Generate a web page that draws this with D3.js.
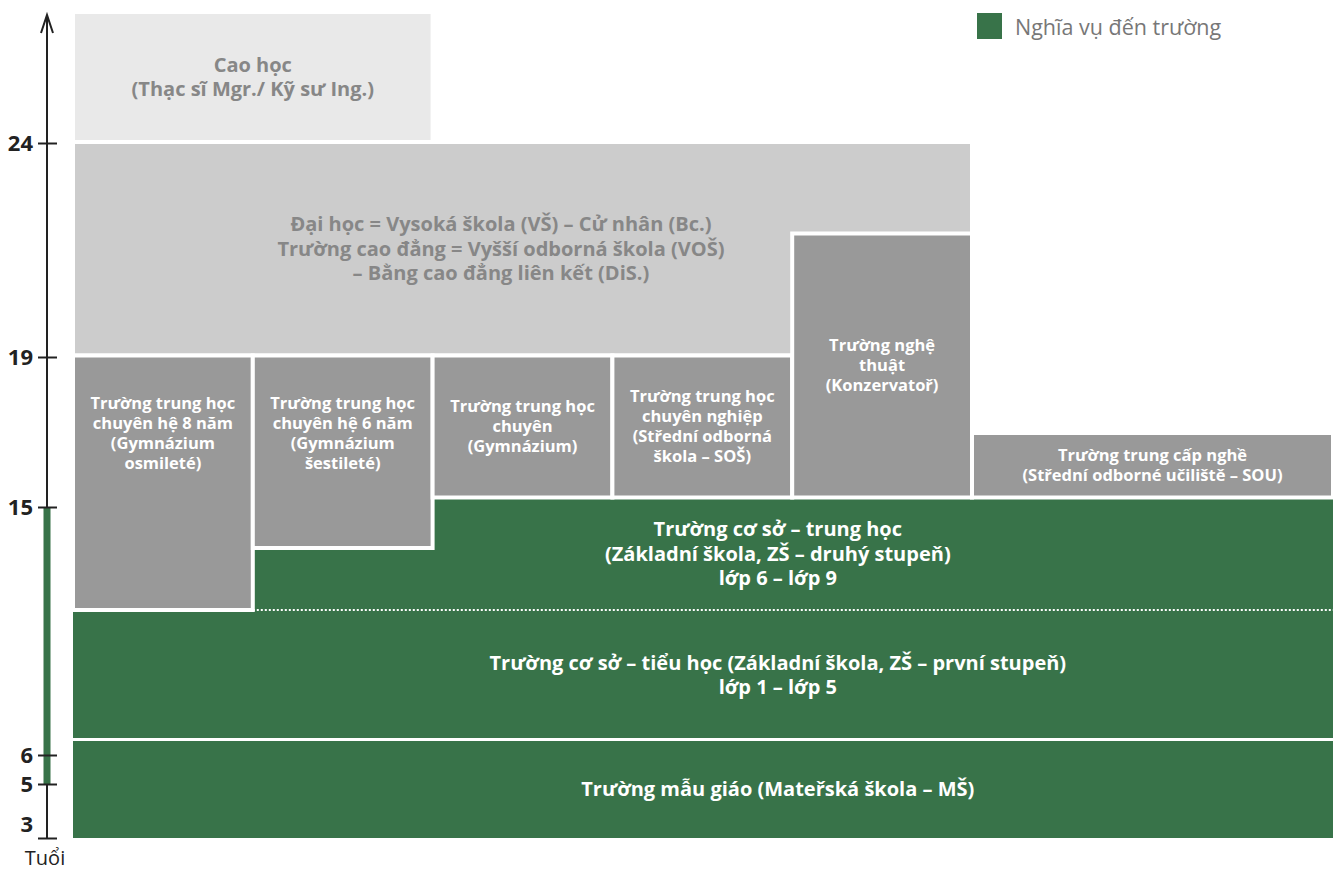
<!DOCTYPE html>
<meta charset="utf-8">
<script src="https://d3js.org/d3.v7.min.js"></script>
<style>
  body { margin: 0; background: #fff; }
  text { font-family: "Open Sans", "Noto Sans", sans-serif; }
</style>
<div id="my_dataviz"></div>
<script>

// school boxes: name (lines), age range and column range
var schoolLabels = [
  ["Trường mẫu giáo (Mateřská škola – MŠ)"],
  ["Trường cơ sở – tiểu học (Základní škola, ZŠ – první stupeň)", "lớp 1 – lớp 5"],
  ["Trường cơ sở – trung học", "(Základní škola, ZŠ – druhý stupeň)", "lớp 6 – lớp 9"],
  ["Đại học = Vysoká škola (VŠ) – Cử nhân (Bc.)", "Trường cao đẳng = Vyšší odborná škola (VOŠ)", "– Bằng cao đẳng liên kết (DiS.)"],
  ["Cao học", "(Thạc sĩ Mgr./ Kỹ sư Ing.)"],
  ["Trường trung học", "chuyên hệ 8 năm", "(Gymnázium", "osmileté)"],
  ["Trường trung học", "chuyên hệ 6 năm", "(Gymnázium", "šestileté)"],
  ["Trường trung học", "chuyên", "(Gymnázium)"],
  ["Trường trung học", "chuyên nghiệp", "(Střední odborná", "škola – SOŠ)"],
  ["Trường nghệ", "thuật", "(Konzervatoř)"],
  ["Trường trung cấp nghề", "(Střední odborné učiliště – SOU)"]
];
var schoolKind = ["basic", "basic", "basic", "uni", "grad", "sec", "sec", "sec", "sec", "sec", "sec"];
var ageFrom = [3, 6, 11, 19, 24, 11, 13, 15, 15, 15, 15];
var ageTo   = [6, 11, 15, 24, 27, 19, 19, 19, 19, 21, 17];
var colFrom = [0, 0, 1, 0, 0, 0, 1, 2, 3, 4, 5];
var colTo   = [7, 7, 7, 5, 2, 1, 2, 3, 4, 5, 7];

// age axis
var ageTicks = [3, 5, 6, 15, 19, 24];
var compulsory = [5, 15];
var legendLabel = "Nghĩa vụ đến trường";
var axisTitle = "Tuổi";

var width = 1333, height = 872;
var green = "#387349";

var svg = d3.select("#my_dataviz")
  .append("svg")
    .attr("width", width)
    .attr("height", height);

// schematic (piecewise) scales
var x = d3.scaleLinear().domain([0, 5, 7]).range([73, 972, 1333]);
var yBox = d3.scaleLinear()
  .domain([3, 6, 11, 13, 15, 17, 19, 21, 24, 27])
  .range([838, 739.5, 610, 548, 497.5, 433, 355.5, 233.5, 142, 12]);
var yAge = d3.scaleLinear()
  .domain([3, 5, 6, 15, 19, 24])
  .range([838, 784, 755, 507, 357, 143]);

var fills = {basic: green, uni: "#cccccc", grad: "#e9e9e9", sec: "#999999"};
var textColor = {basic: "#fff", uni: "#878787", grad: "#878787", sec: "#fff"};

var boxes = schoolLabels.map(function(l, i) {
  return {lines: l, kind: schoolKind[i], a0: ageFrom[i], a1: ageTo[i], c0: colFrom[i], c1: colTo[i]};
});
var basic = boxes.filter(function(d) { return d.kind == "basic"; });
var others = boxes.filter(function(d) { return d.kind != "basic"; });

// green compulsory-school boxes, no border
svg.append("g")
  .selectAll("rect")
  .data(basic)
  .enter()
  .append("rect")
    .attr("x", function(d) { return x(d.c0); })
    .attr("y", function(d) { return yBox(d.a1); })
    .attr("width", function(d) { return x(d.c1) - x(d.c0); })
    .attr("height", function(d) { return yBox(d.a0) - yBox(d.a1); })
    .style("fill", green);

// separators inside the green block
svg.append("line")
  .attr("x1", x(0)).attr("x2", x(7))
  .attr("y1", yBox(6)).attr("y2", yBox(6))
  .style("stroke", "#fff").style("stroke-width", 3);
svg.append("line")
  .attr("x1", x(1)).attr("x2", x(7))
  .attr("y1", yBox(11)).attr("y2", yBox(11))
  .style("stroke", "#fff").style("stroke-width", 2)
  .style("stroke-dasharray", "2,2");

// grey boxes with white gaps
svg.append("g")
  .selectAll("rect")
  .data(others)
  .enter()
  .append("rect")
    .attr("x", function(d) { return x(d.c0); })
    .attr("y", function(d) { return yBox(d.a1); })
    .attr("width", function(d) { return x(d.c1) - x(d.c0); })
    .attr("height", function(d) { return yBox(d.a0) - yBox(d.a1); })
    .style("fill", function(d) { return fills[d.kind]; })
    .style("stroke", "#fff")
    .style("stroke-width", 4);

// labels
var labelCol = {uni: 2.38, basic: 3.92};
boxes.forEach(function(d) {
  var big = d.kind != "sec";
  var fs = big ? 20 : 16.5, lh = big ? 24.5 : 20;
  var cx = labelCol[d.kind] != null ? x(labelCol[d.kind]) : (x(d.c0) + x(d.c1)) / 2;
  // secondary boxes reaching below 15 keep their text in the upper part
  var lo = (d.kind == "sec" && d.a0 < 15) ? 14.5 : d.a0;
  var cy = (yBox(d.a1) + yBox(lo)) / 2;
  var t = svg.append("text")
    .attr("text-anchor", "middle")
    .style("font-size", fs + "px")
    .style("font-weight", 700)
    .style("fill", textColor[d.kind]);
  d.lines.forEach(function(line, j) {
    t.append("tspan")
      .attr("x", cx)
      .attr("y", cy + (j - (d.lines.length - 1) / 2) * lh)
      .attr("dy", "0.35em")
      .text(line);
  });
});

// age axis
var ax = 47;
svg.append("line")
  .attr("x1", ax).attr("x2", ax)
  .attr("y1", yAge(3)).attr("y2", 15)
  .style("stroke", "#222").style("stroke-width", 2);
svg.append("path")
  .attr("d", "M" + (ax - 6) + ",33L" + ax + ",15L" + (ax + 6) + ",33")
  .style("fill", "none").style("stroke", "#222").style("stroke-width", 2);
svg.append("rect")
  .attr("x", ax - 3.5)
  .attr("y", yAge(compulsory[1]))
  .attr("width", 7)
  .attr("height", yAge(compulsory[0]) - yAge(compulsory[1]))
  .style("fill", green);

var axisG = svg.append("g")
  .attr("transform", "translate(" + ax + ",0)")
  .call(d3.axisLeft(yAge).tickValues(ageTicks).tickSize(9).tickPadding(5));
axisG.select(".domain").remove();
axisG.selectAll(".tick line")
  .attr("x1", 10)
  .style("stroke", "#222").style("stroke-width", 2);
axisG.selectAll(".tick text")
  .style("font-family", "'Open Sans', sans-serif")
  .style("font-size", "22px")
  .style("font-weight", 700)
  .style("fill", "#222")
  .attr("dy", function(d) { return d == 3 ? "-0.3em" : "0.35em"; });

svg.append("text")
  .attr("x", 45).attr("y", 858)
  .attr("dy", "0.35em")
  .attr("text-anchor", "middle")
  .style("font-size", "20px")
  .style("fill", "#222")
  .text(axisTitle);

// legend
svg.append("rect")
  .attr("x", 977).attr("y", 13)
  .attr("width", 25).attr("height", 26)
  .style("fill", green);
svg.append("text")
  .attr("x", 1015).attr("y", 27)
  .attr("dy", "0.35em")
  .style("font-size", "21.5px")
  .style("fill", "#777")
  .text(legendLabel);
</script>
